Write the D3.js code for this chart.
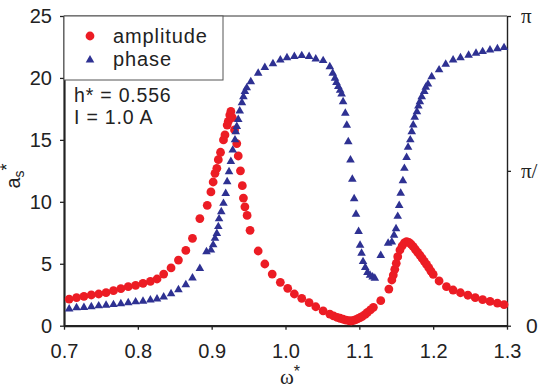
<!DOCTYPE html>
<html>
<head>
<meta charset="utf-8">
<script src="https://cdn.jsdelivr.net/npm/d3@7"></script>
<style>
  body { margin: 0; background: #fff; }
  svg { display: block; font-family: "Liberation Sans", Arial, sans-serif; }
</style>
</head>
<body>
<div id="chart"></div>
<script>
// amplitude a_s* vs omega*
const ampOmega = [0.707, 0.717, 0.727, 0.737, 0.747, 0.757, 0.767, 0.777, 0.787, 0.797,
  0.807, 0.817, 0.826, 0.835, 0.845, 0.855, 0.865, 0.874, 0.884, 0.894,
  0.899, 0.902, 0.9045, 0.907, 0.909, 0.912, 0.916, 0.918, 0.921, 0.9225,
  0.9245, 0.926, 0.928, 0.931, 0.934, 0.936, 0.939, 0.9415, 0.943, 0.945,
  0.948, 0.952, 0.963, 0.972, 0.982, 0.993, 1.003, 1.012, 1.022, 1.032,
  1.041, 1.051, 1.060, 1.065, 1.070, 1.074, 1.078, 1.082, 1.086, 1.089,
  1.092, 1.095, 1.098, 1.101, 1.104, 1.108, 1.111, 1.115, 1.119, 1.129,
  1.140, 1.144, 1.146, 1.148, 1.150, 1.152, 1.155, 1.158, 1.161, 1.164,
  1.167, 1.170, 1.173, 1.176, 1.179, 1.182, 1.185, 1.188, 1.191, 1.194,
  1.197, 1.200, 1.208, 1.218, 1.227, 1.237, 1.247, 1.257, 1.267, 1.277,
  1.287, 1.296];
const ampValue = [2.15, 2.26, 2.37, 2.48, 2.56, 2.67, 2.83, 2.99, 3.15, 3.26,
  3.42, 3.58, 3.77, 4.17, 4.66, 5.30, 6.08, 7.05, 8.65, 9.72,
  10.8, 11.6, 12.3, 12.7, 13.4, 14.0, 15.0, 15.4, 16.2, 16.5,
  17.0, 17.3, 16.8, 15.8, 14.7, 13.7, 12.5, 11.3, 10.3, 9.6,
  8.9, 7.7, 6.03, 4.98, 4.17, 3.50, 3.02, 2.56, 2.21, 1.86,
  1.53, 1.19, 0.94, 0.80, 0.68, 0.60, 0.52, 0.45, 0.40, 0.38,
  0.42, 0.48, 0.56, 0.65, 0.76, 0.92, 1.08, 1.27, 1.48, 2.02,
  2.96, 3.69, 4.09, 4.55, 5.04, 5.57, 6.11, 6.45, 6.68, 6.78,
  6.72, 6.58, 6.38, 6.15, 5.92, 5.70, 5.45, 5.20, 4.95, 4.68,
  4.40, 4.15, 3.61, 3.15, 2.88, 2.66, 2.46, 2.26, 2.10, 1.96,
  1.82, 1.70];

// phase (in units of pi) vs omega*
const phaseOmega = [0.707, 0.717, 0.727, 0.737, 0.747, 0.757, 0.767, 0.777, 0.787, 0.797,
  0.807, 0.817, 0.826, 0.835, 0.845, 0.855, 0.865, 0.874, 0.884, 0.893,
  0.899, 0.902, 0.9045, 0.907, 0.909, 0.910, 0.913, 0.916, 0.919, 0.921,
  0.9235, 0.926, 0.9285, 0.9316, 0.9326, 0.934, 0.936, 0.938, 0.941, 0.943,
  0.945, 0.9475, 0.953, 0.963, 0.972, 0.983, 0.993, 1.002, 1.012, 1.022,
  1.032, 1.041, 1.051, 1.060, 1.064, 1.067, 1.069, 1.0715, 1.074, 1.076,
  1.078, 1.081, 1.083, 1.085, 1.088, 1.0905, 1.093, 1.0955, 1.099, 1.101,
  1.103, 1.105, 1.108, 1.111, 1.1145, 1.118, 1.121, 1.129, 1.139, 1.144,
  1.147, 1.1497, 1.152, 1.154, 1.156, 1.159, 1.161, 1.164, 1.166, 1.169,
  1.171, 1.173, 1.175, 1.178, 1.180, 1.182, 1.1845, 1.188, 1.190, 1.193,
  1.198, 1.208, 1.217, 1.227, 1.237, 1.248, 1.258, 1.267, 1.277, 1.287,
  1.296];
const phasePi = [0.054, 0.058, 0.059, 0.061, 0.064, 0.066, 0.068, 0.071, 0.074, 0.077,
  0.079, 0.083, 0.086, 0.093, 0.103, 0.116, 0.132, 0.154, 0.185, 0.239,
  0.244, 0.261, 0.282, 0.298, 0.320, 0.345, 0.368, 0.395, 0.427, 0.465,
  0.497, 0.530, 0.567, 0.600, 0.626, 0.643, 0.666, 0.693, 0.720, 0.739,
  0.756, 0.768, 0.788, 0.815, 0.834, 0.846, 0.858, 0.865, 0.869, 0.872,
  0.869, 0.861, 0.856, 0.836, 0.815, 0.799, 0.785, 0.772, 0.760, 0.748,
  0.723, 0.686, 0.647, 0.594, 0.535, 0.473, 0.410, 0.360, 0.304, 0.260,
  0.234, 0.207, 0.188, 0.172, 0.163, 0.157, 0.153, 0.227, 0.266, 0.270,
  0.292, 0.313, 0.353, 0.388, 0.428, 0.468, 0.508, 0.543, 0.576, 0.600,
  0.626, 0.648, 0.673, 0.691, 0.709, 0.723, 0.739, 0.756, 0.770, 0.780,
  0.804, 0.826, 0.844, 0.858, 0.865, 0.873, 0.880, 0.885, 0.890, 0.894,
  0.898];

const xTicks = [0.7, 0.8, 0.9, 1.0, 1.1, 1.2, 1.3];
const yTicks = [0, 5, 10, 15, 20, 25];
const phaseTicks = [0, 0.5, 1];
const phaseTickLabels = ["0", "\u03c0/2", "\u03c0"];
const legendLabels = ["amplitude", "phase"];
const noteLines = ["h* = 0.556", "I = 1.0 A"];

const width = 538, height = 391;
const plotLeft = 64, plotRight = 507, plotTop = 16, plotBottom = 325.7;
const red = "#ec1c24", blue = "#2e3192";

const svg = d3.select("#chart").append("svg")
  .attr("width", width)
  .attr("height", height);

const x = d3.scaleLinear().domain([0.7, 1.3]).range([plotLeft, plotRight]);
const yL = d3.scaleLinear().domain([0, 25]).range([plotBottom, plotTop]);
const yR = d3.scaleLinear().domain([0, 1]).range([plotBottom, plotTop]);

// top frame line
svg.append("line")
  .attr("x1", plotLeft).attr("x2", plotRight)
  .attr("y1", plotTop).attr("y2", plotTop)
  .attr("stroke", "#333").attr("stroke-width", 1);

const gx = svg.append("g")
  .attr("transform", `translate(0,${plotBottom})`)
  .call(d3.axisBottom(x).tickValues(xTicks).tickFormat(d3.format(".1f"))
    .tickSize(4).tickSizeOuter(0).tickPadding(14));

const gy = svg.append("g")
  .attr("transform", `translate(${plotLeft},0)`)
  .call(d3.axisLeft(yL).tickValues(yTicks).tickSize(4).tickSizeOuter(0).tickPadding(8));

const gr = svg.append("g")
  .attr("transform", `translate(${plotRight},0)`)
  .call(d3.axisRight(yR).tickValues(phaseTicks)
    .tickFormat((d, i) => phaseTickLabels[i])
    .tickSize(4).tickSizeOuter(0).tickPadding(10));

[gx, gy, gr].forEach(g => {
  g.select(".domain").attr("stroke", "#222");
  g.selectAll(".tick line").attr("stroke", "#222").attr("stroke-width", 1.3);
  g.selectAll(".tick text").attr("fill", "#222")
    .style("font-family", "'Liberation Sans', Arial, sans-serif")
    .style("font-size", "20px");
});
gx.select(".domain").attr("stroke-width", 2.2);
gy.select(".domain").attr("stroke-width", 2.2);
gr.select(".domain").attr("stroke-width", 1.4);
gr.selectAll(".tick text")
  .style("font-size", "21px")
  .attr("dx", d => d === 0 ? 5 : 0)
  .style("font-family", d => d === 0 ? "'Liberation Sans', Arial, sans-serif" : "'Liberation Serif', serif");

// axis titles
svg.append("text")
  .attr("transform", "translate(20,176) rotate(-90)")
  .attr("text-anchor", "middle")
  .attr("fill", "#222")
  .style("font-size", "20px")
  .call(t => {
    t.append("tspan").text("a");
    t.append("tspan").attr("dy", 4).style("font-size", "14px").text("s");
    t.append("tspan").attr("dy", -11).style("font-size", "18px").text("*");
  });

svg.append("text")
  .attr("x", 280).attr("y", 384)
  .attr("fill", "#222")
  .style("font-family", "'Liberation Serif', serif")
  .style("font-size", "21px")
  .call(t => {
    t.append("tspan").text("\u03c9");
    t.append("tspan").attr("dy", -7).style("font-family", "'Liberation Sans', Arial, sans-serif")
      .style("font-size", "16px").text("*");
  });

// legend
svg.append("rect")
  .attr("x", plotLeft).attr("y", plotTop)
  .attr("width", 159).attr("height", 64)
  .attr("fill", "#fff").attr("stroke", "#555").attr("stroke-width", 1);

const legend = svg.append("g");
legend.append("circle").attr("cx", 90).attr("cy", 36).attr("r", 4.4).attr("fill", red);
legend.append("path")
  .attr("d", d3.symbol(d3.symbolTriangle, 32)())
  .attr("transform", "translate(90,60)")
  .attr("fill", blue);
legend.selectAll("text.lab").data(legendLabels).join("text")
  .attr("class", "lab")
  .attr("x", 113)
  .attr("y", (d, i) => 43 + i * 23)
  .attr("fill", "#222")
  .style("font-size", "20px")
  .style("letter-spacing", "0.9px")
  .text(d => d);

svg.selectAll("text.note").data(noteLines).join("text")
  .attr("class", "note")
  .attr("x", 74)
  .attr("y", (d, i) => 102 + i * 21.5)
  .attr("fill", "#222")
  .style("font-size", "19.5px")
  .style("letter-spacing", "0.8px")
  .text(d => d);

// data
svg.append("g").selectAll("circle")
  .data(d3.zip(ampOmega, ampValue))
  .join("circle")
  .attr("cx", d => x(d[0]))
  .attr("cy", d => yL(d[1]))
  .attr("r", 4.4)
  .attr("fill", red);

const tri = d3.symbol(d3.symbolTriangle, 32);
svg.append("g").selectAll("path")
  .data(d3.zip(phaseOmega, phasePi))
  .join("path")
  .attr("d", tri)
  .attr("transform", d => `translate(${x(d[0])},${yR(d[1])})`)
  .attr("fill", blue);
</script>
</body>
</html>
